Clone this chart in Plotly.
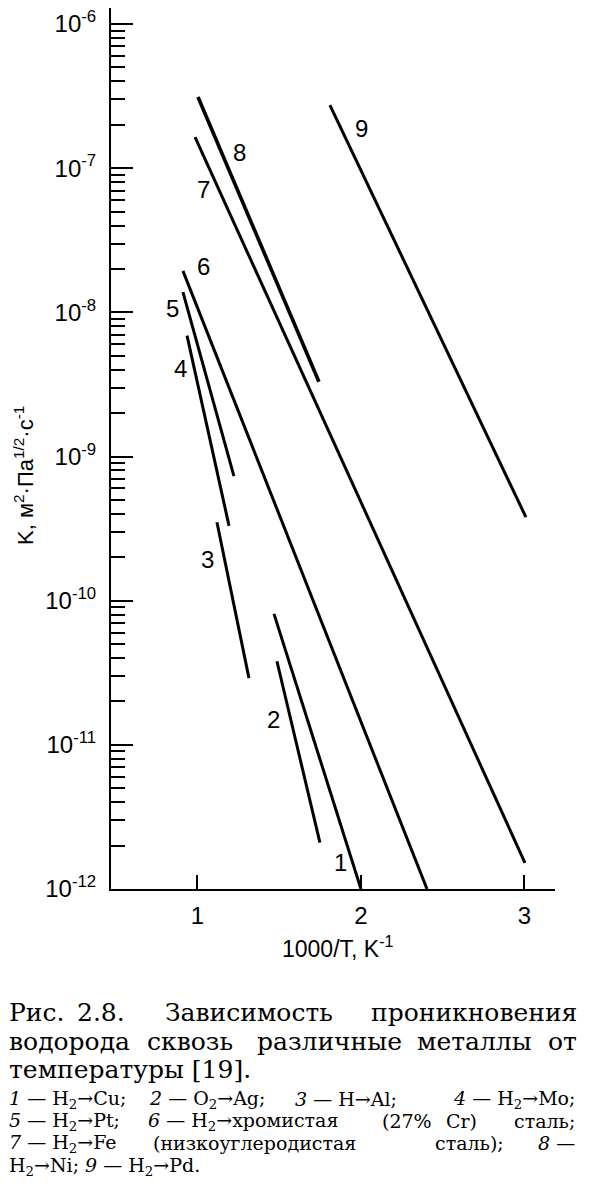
import numpy as np
import plotly.graph_objects as go

# ---- data ----
curve_ids = ["1", "2", "3", "4", "5", "6", "7", "8", "9"]
x_start = [1.468, 1.486, 1.119, 0.936, 0.911, 0.911, 0.985, 1.003, 1.810]
x_end = [2.000, 1.749, 1.315, 1.193, 1.223, 2.404, 3.003, 1.743, 3.009]
k_start = [8.1e-11, 3.8e-11, 3.5e-10, 6.9e-9, 1.38e-8, 1.94e-8, 1.64e-7, 3.12e-7, 2.74e-7]
k_end = [1.0e-12, 2.1e-12, 2.9e-11, 3.3e-10, 7.3e-10, 1.0e-12, 1.52e-12, 3.3e-9, 3.8e-10]
label_x = [1.872, 1.462, 1.064, 0.899, 0.850, 1.034, 1.034, 1.254, 2.006]
label_k = [1.52e-12, 1.49e-11, 1.92e-10, 4.11e-9, 1.07e-8, 2.07e-8, 7.06e-8, 1.29e-7, 1.87e-7]

x_ticks = [1, 2, 3]
y_ticks = [1e-12, 1e-11, 1e-10, 1e-9, 1e-8, 1e-7, 1e-6]
y_ticktext = ["10<sup>-12</sup>", "10<sup>-11</sup>", "10<sup>-10</sup>", "10<sup>-9</sup>",
              "10<sup>-8</sup>", "10<sup>-7</sup>", "10<sup>-6</sup>"]

# page offset (default body margin of the html page)
OFF = 8
W, H = 594, 1200
L, R, T, B = 103, 47, 0, 319
PW, PH = W - L - R, H - T - B

fig = go.Figure()
for i, cid in enumerate(curve_ids):
    fig.add_trace(go.Scatter(
        x=[x_start[i], x_end[i]], y=[k_start[i], k_end[i]], mode="lines",
        line=dict(color="black", width=3.6 if cid == "8" else 3),
        showlegend=False, hoverinfo="skip"))
    fig.add_annotation(x=label_x[i], y=np.log10(label_k[i]), xref="x", yref="y",
                       text=cid, showarrow=False,
                       font=dict(family="Liberation Sans", size=24, color="black"))


def px_text(text, px, py, size, anchor="left", family="DejaVu Serif", angle=0):
    fig.add_annotation(x=(px - OFF - L) / PW, y=(H - B - (py - OFF)) / PH,
                       xref="paper", yref="paper",
                       text=text, showarrow=False, xanchor=anchor, yanchor="middle",
                       textangle=angle, borderpad=0,
                       font=dict(family=family, size=size, color="black"))


# axis titles
px_text("K, м<sup>2</sup>·Па<sup>1/2</sup>·с<sup>-1</sup>", 24, 476, 22,
        anchor="center", family="Liberation Sans", angle=-90)
px_text("1000/T, K<sup>-1</sup>", 338, 947, 23, anchor="center", family="Liberation Sans")

# caption (justified lines placed word by word)
big = 25
LEFT = OFF
px_text("Рис.", LEFT, 1012, big)
px_text("2.8.", 76, 1012, big)
px_text("Зависимость", 164, 1012, big)
px_text("проникновения", 578, 1012, big, anchor="right")
px_text("водорода", LEFT, 1041, big)
px_text("сквозь", 146, 1041, big)
px_text("различные", 256, 1041, big)
px_text("металлы", 416, 1041, big)
px_text("от", 578, 1041, big, anchor="right")
px_text("температуры [19].", LEFT, 1069, big)

sm = 19
px_text("<i>1</i> — H<sub>2</sub>→Cu;", LEFT, 1099, sm)
px_text("<i>2</i> — O<sub>2</sub>→Ag;", 148, 1099, sm)
px_text("<i>3</i> — H→Al;", 294, 1099, sm)
px_text("<i>4</i> — H<sub>2</sub>→Mo;", 576, 1099, sm, anchor="right")
px_text("<i>5</i> — H<sub>2</sub>→Pt;", LEFT, 1121, sm)
px_text("<i>6</i> — H<sub>2</sub>→хромистая", 147, 1121, sm)
px_text("(27%", 381, 1121, sm)
px_text("Cr)", 445, 1121, sm)
px_text("сталь;", 576, 1121, sm, anchor="right")
px_text("<i>7</i> — H<sub>2</sub>→Fe", LEFT, 1143, sm)
px_text("(низкоуглеродистая", 152, 1143, sm)
px_text("сталь);", 434, 1143, sm)
px_text("<i>8</i> —", 576, 1143, sm, anchor="right")
px_text("H<sub>2</sub>→Ni; <i>9</i> — H<sub>2</sub>→Pd.", LEFT, 1166, sm)

fig.update_layout(
    width=W, height=H, autosize=False,
    margin=dict(l=L, r=R, t=T, b=B),
    paper_bgcolor="white", plot_bgcolor="white",
    showlegend=False,
    xaxis=dict(range=[0.471, 3.187], tickvals=x_ticks, ticktext=[str(v) for v in x_ticks],
               ticks="inside", ticklen=14, tickwidth=1.5, tickcolor="black",
               showline=True, linecolor="black", linewidth=2, showgrid=False, zeroline=False,
               ticklabelstandoff=4,
               tickfont=dict(family="Liberation Sans", size=24, color="black")),
    yaxis=dict(type="log", range=[-12, -5.889], tickvals=y_ticks, ticktext=y_ticktext,
               ticks="inside", ticklen=22, tickwidth=1.5, tickcolor="black",
               showline=True, linecolor="black", linewidth=2, showgrid=False, zeroline=False,
               ticklabelstandoff=8, ticklabeloverflow="allow",
               minor=dict(ticks="inside", ticklen=14, tickwidth=1.5, tickcolor="black",
                          dtick="D1", showgrid=False),
               tickfont=dict(family="Liberation Sans", size=24, color="black")),
)

fig.write_html("out.html")
